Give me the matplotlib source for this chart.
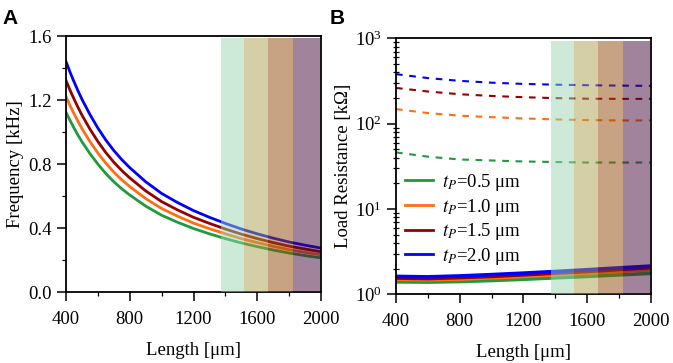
import matplotlib
matplotlib.use("Agg")
import matplotlib.pyplot as plt
from matplotlib.ticker import MultipleLocator, LogLocator, LogFormatterMathtext, NullFormatter, FormatStrFormatter

plt.rcParams['font.family'] = ['Liberation Serif', 'DejaVu Serif']
plt.rcParams['mathtext.fontset'] = 'stix'

# ---- data ----
length_a = [400, 425, 450, 475, 500, 550, 600, 650, 700, 750, 800,
            900, 1000, 1100, 1200, 1300, 1400, 1500, 1600, 1700, 1800, 1900, 2000]
freq_05 = [1.123, 1.073, 1.026, 0.981, 0.940, 0.866, 0.800, 0.741, 0.690, 0.646, 0.607,
           0.538, 0.481, 0.437, 0.398, 0.365, 0.335, 0.308, 0.285, 0.264, 0.245, 0.229, 0.215]
freq_10 = [1.221, 1.166, 1.115, 1.067, 1.022, 0.941, 0.869, 0.806, 0.750, 0.702, 0.660,
           0.585, 0.523, 0.475, 0.432, 0.397, 0.365, 0.335, 0.310, 0.287, 0.266, 0.249, 0.234]
freq_15 = [1.322, 1.262, 1.207, 1.155, 1.106, 1.019, 0.941, 0.872, 0.812, 0.760, 0.714,
           0.633, 0.566, 0.514, 0.468, 0.430, 0.395, 0.363, 0.335, 0.310, 0.288, 0.270, 0.253]
freq_20 = [1.440, 1.375, 1.315, 1.258, 1.205, 1.110, 1.025, 0.950, 0.885, 0.828, 0.778,
           0.690, 0.617, 0.560, 0.510, 0.468, 0.430, 0.395, 0.365, 0.338, 0.314, 0.294, 0.276]

length_b = [400, 600, 800, 1000, 1200, 1400, 1600, 1800, 2000]
rload_dash_05 = [46, 41, 38, 37, 36, 35.5, 35, 35, 35]
rload_dash_10 = [148, 133, 124, 119, 115, 112, 110, 109, 109]
rload_dash_15 = [262, 238, 221, 211, 204, 199, 196, 195, 195]
rload_dash_20 = [380, 342, 317, 302, 292, 286, 282, 279, 277]
rload_sol_05 = [1.40, 1.39, 1.41, 1.45, 1.50, 1.56, 1.62, 1.69, 1.76]
rload_sol_10 = [1.50, 1.48, 1.51, 1.56, 1.62, 1.69, 1.77, 1.85, 1.93]
rload_sol_15 = [1.55, 1.53, 1.57, 1.62, 1.69, 1.77, 1.85, 1.95, 2.05]
rload_sol_20 = [1.62, 1.60, 1.64, 1.70, 1.77, 1.85, 1.94, 2.04, 2.14]

labels = [r'$t_P$=0.5 μm', r'$t_P$=1.0 μm', r'$t_P$=1.5 μm', r'$t_P$=2.0 μm']
colors = ['#1f9a3c', '#ff6e12', '#960000', '#0000ff']

span_edges = [1370, 1515, 1670, 1825, 1995]
span_colors = ['#9bd7b1', '#ada151', '#91490b', '#47093b']

fig = plt.figure(figsize=(6.73, 3.63), dpi=100)
axA = fig.add_axes([0.0981, 0.1948, 0.3789, 0.7060])
axB = fig.add_axes([0.5884, 0.1893, 0.3789, 0.7052])

def style(ax):
    for s in ax.spines.values():
        s.set_linewidth(1.3)
    ax.tick_params(axis='both', which='major', direction='out', length=6.5, width=1.1,
                   labelsize=13.5, top=False, right=False)
    ax.tick_params(axis='x', which='major', pad=7)
    ax.tick_params(axis='both', which='minor', direction='out', length=3.2, width=0.9,
                   top=False, right=False)

# Panel A
for y, c in zip([freq_05, freq_10, freq_15, freq_20], colors):
    axA.plot(length_a, y, color=c, lw=2.0)
for i in range(4):
    axA.fill_between([span_edges[i], span_edges[i + 1]], 0, 1.587,
                     color=span_colors[i], alpha=0.5, lw=0, zorder=3)
axA.set_xlim(400, 2000)
axA.set_ylim(0, 1.6)
axA.xaxis.set_major_locator(MultipleLocator(400))
axA.xaxis.set_minor_locator(MultipleLocator(200))
axA.yaxis.set_major_locator(MultipleLocator(0.4))
axA.yaxis.set_minor_locator(MultipleLocator(0.2))
axA.yaxis.set_major_formatter(FormatStrFormatter('%.1f'))
style(axA)
axA.set_xlabel('Length [μm]', fontsize=13.5, labelpad=10)
axA.set_ylabel('Frequency [kHz]', fontsize=13.5, labelpad=3)

# Panel B
for y, c in zip([rload_dash_05, rload_dash_10, rload_dash_15, rload_dash_20], colors):
    axB.plot(length_b, y, color=c, lw=1.5, dashes=(3.2, 3.2))
for y, c, lab in zip([rload_sol_05, rload_sol_10, rload_sol_15, rload_sol_20], colors, labels):
    axB.plot(length_b, y, color=c, lw=2.6, label=lab)
for i in range(4):
    axB.fill_between([span_edges[i], span_edges[i + 1]], 1, 940,
                     color=span_colors[i], alpha=0.5, lw=0, zorder=3)
axB.set_yscale('log')
axB.set_xlim(400, 2000)
axB.set_ylim(1, 1000)
axB.xaxis.set_major_locator(MultipleLocator(400))
axB.xaxis.set_minor_locator(MultipleLocator(200))
axB.yaxis.set_major_locator(LogLocator(base=10, numticks=10))
axB.yaxis.set_minor_locator(LogLocator(base=10, subs=[2, 3, 4, 5, 6, 7, 8, 9], numticks=10))
axB.yaxis.set_major_formatter(LogFormatterMathtext())
axB.yaxis.set_minor_formatter(NullFormatter())
style(axB)
axB.tick_params(axis='y', which='minor', direction='inout', length=5)
axB.set_xlabel('Length [μm]', fontsize=13.5, labelpad=10)
axB.set_ylabel('Load Resistance [kΩ]', fontsize=13.5, labelpad=2)
leg = axB.legend(loc='upper left', bbox_to_anchor=(0.006, 0.507), frameon=False,
                 fontsize=13.5, handlelength=1.5, handletextpad=0.48, labelspacing=0.19,
                 borderaxespad=0.0, borderpad=0.4)
for h in leg.get_lines():
    h.set_linewidth(2.0)

fig.text(0.004, 0.975, 'A', fontsize=15, fontweight='bold', family='Liberation Sans', va='top')
fig.text(0.490, 0.975, 'B', fontsize=15, fontweight='bold', family='Liberation Sans', va='top')

fig.savefig('out.png', dpi=100)
